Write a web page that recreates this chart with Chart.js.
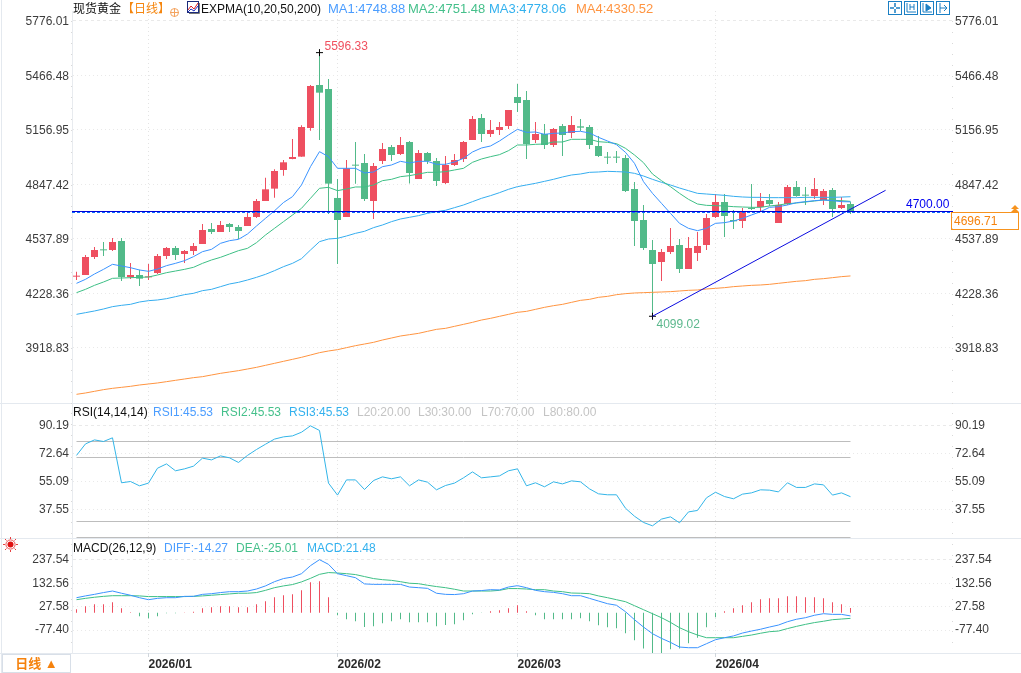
<!DOCTYPE html>
<html lang="zh-CN">
<head>
<meta charset="UTF-8">
<title>现货黄金 日线</title>
<script src="https://cdn.jsdelivr.net/npm/chart.js"></script>
<style>
  html, body { margin: 0; padding: 0; background: #fff; overflow: hidden; }
  body { width: 1021px; height: 673px; position: relative; font: 12px "Liberation Sans", "Noto Sans CJK SC", sans-serif; }
  canvas { position: absolute; left: 0; }
  .t { position: absolute; line-height: 14px; white-space: nowrap; }
  .ma { font-size: 13px; }
  .rule { position: absolute; background: #e4e9ef; }
  .minor { position: absolute; top: 21px; width: 1px; height: 632px;
           background: repeating-linear-gradient(to bottom, #d9d9d9 0 1px, transparent 1px 10.9px); }
  svg { position: absolute; }
  #box { position: absolute; left: 951px; top: 212px; width: 66px; height: 16px; border: 1px solid #f7931e; }
  .tri { position: absolute; width: 0; height: 0; border-left: 4px solid transparent; border-right: 4px solid transparent; border-bottom: 4px solid #f7931e; }
  #btn { position: absolute; left: 2px; top: 654px; width: 67px; height: 17px; border: 1px solid #d8dfe8; color: #f5820d;
         font-weight: bold; font-size: 13px; line-height: 17px; text-align: center; }
</style>
</head>
<body>

<div class="rule" style="left:1px;top:0;width:1px;height:673px"></div>
<div class="rule" style="left:0;top:403px;width:1021px;height:1px"></div>
<div class="rule" style="left:0;top:538px;width:1021px;height:1px"></div>
<div class="rule" style="left:0;top:653px;width:1021px;height:1px"></div>
<div class="minor" style="left:71px"></div>
<div class="minor" style="left:952px"></div>

<canvas id="priceChart" width="1021" height="403" style="top:0"></canvas>
<canvas id="rsiChart" width="1021" height="135" style="top:403px"></canvas>
<canvas id="macdChart" width="1021" height="135" style="top:538px"></canvas>

<!-- legends -->
<span class="t" style="left:73px;top:2px;color:#111">现货黄金</span>
<span class="t" style="left:122px;top:2px;color:#f5860f">【日线】</span>
<svg style="left:170px;top:8px" width="9" height="9" viewBox="0 0 9 9"><circle cx="4.5" cy="4.5" r="4" fill="none" stroke="#f4a460"/><path d="M0 4.5H9M4.5 0V9" stroke="#f4a460"/></svg>
<svg style="left:187px;top:1px" width="13" height="13" viewBox="0 0 13 13"><rect x=".5" y=".5" width="11" height="11" fill="#fff" stroke="#1a2a7a"/><path d="M1 9L4 5L7 8L11 2" fill="none" stroke="#e02020"/><path d="M1 11L4 8L7 10L11 5" fill="none" stroke="#2030c0"/><path d="M12.5 2V12.5H2" fill="none" stroke="#777"/></svg>
<span class="t" style="left:201px;top:2px;color:#111">EXPMA(10,20,50,200)</span>
<span class="t ma" style="left:328px;top:2px;color:#4b9dff">MA1:4748.88</span>
<span class="t ma" style="left:408px;top:2px;color:#45c08b">MA2:4751.48</span>
<span class="t ma" style="left:489px;top:2px;color:#33b1ee">MA3:4778.06</span>
<span class="t ma" style="left:576px;top:2px;color:#ff9440">MA4:4330.52</span>

<span class="t" style="left:73px;top:405px;color:#111">RSI(14,14,14)</span>
<span class="t" style="left:153px;top:405px;color:#4b9dff">RSI1:45.53</span>
<span class="t" style="left:221px;top:405px;color:#45c08b">RSI2:45.53</span>
<span class="t" style="left:289px;top:405px;color:#33b1ee">RSI3:45.53</span>
<span class="t" style="left:357px;top:405px;color:#c4c4c4">L20:20.00</span>
<span class="t" style="left:418px;top:405px;color:#c4c4c4">L30:30.00</span>
<span class="t" style="left:481px;top:405px;color:#c4c4c4">L70:70.00</span>
<span class="t" style="left:543px;top:405px;color:#c4c4c4">L80:80.00</span>

<span class="t" style="left:73px;top:541px;color:#111">MACD(26,12,9)</span>
<span class="t" style="left:164px;top:541px;color:#4b9dff">DIFF:-14.27</span>
<span class="t" style="left:236px;top:541px;color:#45c08b">DEA:-25.01</span>
<span class="t" style="left:307px;top:541px;color:#33b1ee">MACD:21.48</span>

<!-- price tags -->
<span class="t" style="left:906px;top:197px;color:#0000f0">4700.00</span>
<div id="box"></div>
<span class="t" style="left:954px;top:214px;color:#f5820d">4696.71</span>
<div class="tri" style="left:1011px;top:205px"></div>
<div class="tri" style="left:1011px;top:208px"></div>

<!-- toolbar -->
<svg style="left:888px;top:1px" width="63" height="14" viewBox="0 0 63 14" fill="none" stroke="#1a7fc4">
  <rect x=".5" y=".5" width="13" height="13"/><path d="M7 2V6M7 8V12M2 7H6M8 7H12" stroke-width="1.5"/>
  <rect x="16.5" y=".5" width="13" height="13"/><path d="M19 2V11H28M22 3V9M26 3V9M22 6H26"/>
  <rect x="32.5" y=".5" width="13" height="13"/><path d="M35 2V11H44"/><path d="M38 3L43 7L38 10Z" fill="#1a7fc4"/>
  <rect x="48.5" y=".5" width="13" height="13"/><path d="M52 2V12M52 7H59M56 4L59 7L56 10"/>
</svg>
<svg style="left:3px;top:537px" width="15" height="15" viewBox="0 0 15 15"><circle cx="7.5" cy="7.5" r="3" fill="#e01010"/><circle cx="7.5" cy="7.5" r="4.6" fill="none" stroke="#e01010" stroke-width=".7"/><path d="M7.5 0V2M7.5 13V15M0 7.5H2M13 7.5H15M2 2L3.5 3.5M13 2L11.5 3.5M2 13L3.5 11.5M13 13L11.5 11.5" stroke="#e01010" stroke-width=".8"/></svg>
<div id="btn">日线 ▲</div>

<script>
// candles
const opens = [4323.9,4333.4,4435.6,4477.2,4475.3,4526.5,4322.0,4333.4,4320.1,4344.7,4441.3,4486.7,4452.6,4469.7,4509.4,4594.6,4577.6,4623.0,4606.0,4611.6,4662.8,
  4753.8,4823.9,4929.9,4992.3,5005.6,5168.4,5412.6,5389.9,4770.9,4662.8,4958.2,4969.6,4753.8,4980.9,5060.4,5020.7,5088.8,4878.7,5026.3,4980.9,4856.0,4958.2,4992.3,5100.2,5225.1,5134.3,5157.0,5179.7,5344.4,5327.3,
  5100.2,5134.3,5071.8,5179.7,5139.9,5177.8,5174.0,5066.1,5003.6,5003.6,4998.0,4821.9,4645.9,4475.4,4407.2,4464.0,4503.8,4367.5,4458.4,4503.8,4662.8,4748.0,4645.8,4640.1,4713.9,4719.6,4759.4,4628.7,4736.6,4833.2,4787.8,4782.0,4759.4,4816.1,4713.9,4736.6];
const closes = [4327.7,4435.6,4475.3,4473.4,4520.8,4322.0,4333.4,4312.6,4325.8,4441.3,4486.7,4447.0,4469.7,4498.0,4589.0,4577.6,4617.3,4606.0,4583.2,4662.8,4753.6,
  4820.0,4924.2,4973.4,5003.7,5174.0,5406.9,5369.0,4852.3,4645.7,4939.3,4954.4,4765.1,4952.5,5049.1,5015.0,5071.8,4912.8,5026.3,4980.9,4867.3,4958.2,4986.6,5088.8,5219.4,5134.3,5157.0,5174.0,5270.6,5310.3,5077.5,
  5134.3,5071.8,5162.6,5128.6,5185.4,5170.2,5071.8,5009.3,4999.8,4999.8,4810.6,4640.2,4486.8,4395.9,4464.0,4498.1,4367.5,4486.8,4498.1,4657.1,4748.0,4668.5,4638.2,4691.2,4708.2,4753.7,4736.6,4731.0,4833.2,4782.0,4784.0,4821.8,4810.5,4708.2,4731.0,4691.2];
const highs = [4352.3,4446.9,4492.4,4520.8,4543.5,4543.5,4401.5,4363.7,4395.8,4452.6,4492.4,4498.0,4475.3,4515.1,4623.0,4628.7,4640.0,4628.7,4617.3,4691.2,4765.0,
  4886.3,4933.7,4986.7,5105.9,5183.5,5412.6,5596.33,5446.6,4878.7,4986.7,5088.8,5020.7,4969.6,5083.1,5071.8,5117.2,5094.5,5043.4,5032.0,4998.0,5009.3,5020.7,5094.5,5236.5,5247.8,5213.8,5202.4,5270.6,5418.2,5378.5,
  5202.4,5191.0,5168.3,5191.0,5236.5,5219.4,5185.4,5122.9,5032.0,5037.7,5015.0,4861.7,4731.0,4532.2,4481.0,4600.3,4537.9,4549.2,4577.6,4679.8,4793.4,4793.4,4702.6,4713.9,4850.2,4799.1,4793.4,4748.0,4844.5,4867.3,4833.2,4884.3,4821.8,4827.5,4776.4,4748.0];
const lows = [4305.0,4333.4,4424.2,4441.3,4469.7,4299.3,4310.7,4270.9,4305.0,4339.0,4424.2,4418.6,4401.5,4447.0,4509.4,4566.2,4577.6,4577.6,4537.8,4611.6,4657.1,
  4753.8,4772.7,4897.7,4990.4,5005.6,5153.2,5100.2,4679.8,4395.8,4662.8,4852.2,4753.8,4651.5,4963.9,4980.9,5015.0,4853.0,4878.7,4963.9,4839.0,4850.3,4952.5,4975.2,5100.2,5088.8,5117.2,5128.6,5162.6,5259.2,4992.3,
  5083.1,5049.1,5060.4,5009.3,5111.5,5151.3,5049.1,5003.6,4963.9,4969.6,4804.9,4498.2,4475.5,4099.02,4299.3,4452.7,4344.8,4367.5,4412.9,4475.4,4657.1,4549.2,4594.6,4600.3,4702.6,4691.2,4725.3,4628.7,4731.0,4778.0,4731.0,4765.0,4731.0,4662.8,4708.2,4679.8];

// EXPMA(10,20,50,200)
const ma1 = [4286,4308.8,4339,4365.5,4394,4384.5,4375,4361.8,4354.2,4367.4,4386.4,4399.6,4414.8,4437.5,4465.9,4479.1,4513.2,4528.3,4535.9,4566.2,4611.6,4655.2,
  4698,4745,4778.4,4844.7,4948.8,5034,5005.6,4939.3,4939.3,4939.3,4912.8,4918.4,4948.7,4958.2,4979,4969.6,4979,4979,4962,4962,4975.2,4996,5032,5054.7,5066.1,5094.5,5128.6,5160.8,5143.7,5145.6,5132.4,5138,5139.9,5147.5,5149.4,5139.9,5115.3,5094.5,5073.7,
  5030,4967.7,4863.5,4797.2,4740.4,4683.6,4626.8,4598.4,4585.2,4598.4,4626.8,4630.6,4640.1,4655.2,4674.2,4693.1,4717.7,4721.5,4731,4744.2,4749.9,4755.6,4759.4,4755.6,4749.9,4748.9];
const ma2 = [4233,4252,4274.7,4293.6,4314.4,4316.3,4318.2,4320,4322,4333.4,4346.6,4356,4365.5,4377,4399.6,4418.6,4433.7,4452.6,4471.6,4484.8,4517,4560.5,4598.4,4636.3,4674,4712,4769,4825.8,4831.4,4812.5,4822,4833.3,
  4833.2,4844.6,4869.2,4876.8,4891.9,4897.6,4907,4916.5,4916.5,4920.4,4929.8,4939.3,4973.4,4992.3,5005.5,5016.9,5039.6,5071.8,5071.8,5075.6,5077.5,5088.8,5088.8,5104,5104,5104,5090.7,5086.9,5079.4,5052.9,5015,
  4971.4,4907,4869.1,4835,4797.2,4763.1,4736.6,4729,4727.2,4725.3,4721.5,4719.6,4717.7,4717.7,4725.3,4731,4738.5,4742.3,4748,4753.7,4759.4,4757.5,4755.6,4751.5];
const ma3 = [4110,4119.5,4129,4140.3,4153.6,4161.1,4166.8,4180,4187.6,4191.4,4199,4210.3,4221.7,4229.3,4244.4,4252,4267.1,4282.3,4291.7,4305,4320.1,4337.2,4358,4380.7,4399.6,4426.1,4475.3,4522.7,4537.8,4541.6,4554.9,4570,
  4581.5,4602.3,4617.4,4636.4,4651.5,4661,4670.5,4683.7,4693.2,4700.8,4715.9,4731,4750,4768.9,4784,4801,4820,4835.2,4844.6,4854.1,4865.4,4876.8,4890.1,4901.4,4907.1,4916.5,4918.4,4922.2,4920.4,4918.4,
  4910.8,4895.6,4876.7,4859.7,4844.5,4827.5,4812.4,4797.2,4793.4,4789.6,4785.8,4780.2,4776.4,4774.5,4774.5,4772.6,4772.6,4772.6,4772.6,4774.5,4774.5,4774.5,4774.5,4776,4778];
const ma4 = [3655.7,3663.2,3672.7,3682.2,3689.7,3695.4,3701.1,3708.7,3714.4,3720.1,3727.6,3735.2,3742.7,3750.3,3756,3765.5,3774.9,3782.5,3790.1,3799.5,3809,3820.4,3831.7,3843.1,3854.4,3865.8,3879,3892.3,3901.8,3909.3,3920.7,3932,
  3941.4,3950.9,3964.2,3975.5,3986.9,3994.4,4002,4013.4,4024.7,4030.4,4041.8,4053.1,4064.5,4077.7,4087.2,4098.6,4109.9,4121.3,4126.9,4138.3,4149.7,4159.1,4166.7,4178,4189.4,4195.1,4206.5,4212.1,4221.6,
  4227.4,4231.2,4233.1,4235,4236.9,4238.8,4242.6,4246.3,4248.2,4253.9,4257.7,4261.5,4267.2,4271,4274.7,4276.6,4280.4,4286.1,4291.8,4297.5,4301.2,4308.8,4312.6,4318.3,4324,4328];

const rsi = [71.3,78.5,81.0,80.0,82.3,54.2,55.0,52.3,54.0,63.3,66.0,61.7,62.9,64.6,69.6,68.5,71.0,69.8,66.9,71.3,75.0,78.3,81.5,82.9,83.5,85.8,89.8,86.9,54.0,46.5,56.0,56.0,50.0,55.6,57.9,56.7,57.9,52.3,56.0,54.6,49.8,
  52.5,54.0,57.3,61.0,57.3,57.9,58.5,61.7,62.9,52.3,54.2,51.7,54.8,53.5,55.4,54.8,50.4,47.3,46.7,46.7,38.3,33.3,29.4,27.3,31.5,32.9,29.2,36.0,36.9,44.8,48.3,45.6,44.2,47.1,47.9,49.8,49.6,48.5,54.2,51.3,51.3,53.5,52.9,46.5,47.9,45.5];
const rsiLevels = [20, 30, 70, 80];

const diff = [68,76,83,91,98,88,79,68,59,65,68,68,74,74,83,86,91,95,95,98,107,121,140,154,161,176,212,239,218,176,167,158,130,128,128,128,128,116,113,110,88,
  83,82,86,98,100,104,103,116,122,113,101,95,92,86,77,77,65,53,41,34,5,-31,-64,-94,-115,-133,-154,-157,-157,-139,-121,-112,-104,-91,-82,-74,-64,-55,-40,-29,-22,-11,-4,-7,-7,-14];
const dea = [59,65,70,74,77,77,77,76,73,73,73,73,73,74,76,79,82,85,88,88,91,101,113,121,127,139,155,173,181,179,176,172,163,154,149,146,140,133,131,124,118,
  113,106,98,98,98,98,101,109,109,107,104,104,98,95,89,88,86,76,68,59,50,32,14,-4,-22,-43,-67,-85,-100,-112,-112,-112,-112,-106,-100,-92,-85,-82,-71,-61,-52,-44,-38,-31,-28,-25];
const macd = [16,29,38,38,47,20,2,-16,-25,-16,-2,-2,1,5,20,25,29,29,25,25,38,52,70,79,83,101,137,142,70,-11,-29,-38,-64,-61,-47,-38,-29,-43,-43,-43,-61,
  -55,-52,-34,-7,-1,7,11,20,34,7,-11,-29,-29,-29,-29,-25,-38,-56,-65,-70,-92,-124,-160,-185,-185,-164,-161,-137,-112,-65,-20,7,20,34,47,61,65,65,74,74,70,70,65,47,38,22];

const priceTicks = [3918.83, 4228.36, 4537.89, 4847.42, 5156.95, 5466.48, 5776.01];
const rsiTicks = [37.55, 55.09, 72.64, 90.19];
const macdTicks = [-77.40, 27.58, 132.56, 237.54];
const monthIndex = [8, 29, 49, 71];
const monthLabels = ['2026/01', '2026/02', '2026/03', '2026/04'];

const targetLevel = 4694;   // blue horizontal drawing, tagged 4700.00
const lastLevel = 4688.3;   // dashed last-price line, tagged 4696.71
const trendFrom = [64, 4099.02];
const trendTo = [89.9, 4814.4];
const peak = [27, 5596.33];
const trough = [64, 4099.02];

const RED = '#ee4f60', GREEN = '#52ba89';
const FONT = '"Liberation Sans", "Noto Sans CJK SC", sans-serif';
const lastIdx = opens.length - 1;
const xMin = -0.5, xMax = 97.39;

const pts = s => s.map((y, i) => ({ x: i, y }));
const flat = (y, a, b) => [{ x: a, y }, { x: b, y }];
const line = (data, color, extra) => Object.assign({
  type: 'line', data, borderColor: color, borderWidth: 1, pointRadius: 0, tension: 0,
  xAxisID: 'x', yAxisID: 'yl', order: 1
}, extra);

// fixed box so every panel lines up to the pixel
const fixBox = (w, h) => s => {
  if (w !== null) s.width = w;
  if (h !== null) s.height = h;
  s.paddingTop = s.paddingBottom = s.paddingLeft = s.paddingRight = 0;
};

function yAxis(position, min, max, ticks, width, grid, labelOffset) {
  const top = ticks[ticks.length - 1];
  return {
    position, min, max,
    afterBuildTicks: s => { s.ticks = ticks.map(value => ({ value })); },
    afterFit: fixBox(width, null),
    grid: { display: grid, drawTicks: false, color: '#e9e9e9' },
    border: { display: grid, color: '#e8ebef', dash: c => (c.tick && c.tick.value === top ? [3, 3] : [1, 3]) },
    ticks: {
      autoSkip: false, padding: position === 'left' ? 3 : 2, color: '#3c3c3c', labelOffset,
      font: { family: FONT, size: 12 }, callback: v => v.toFixed(2)
    }
  };
}

function xAxis(height, labels) {
  return {
    type: 'linear', min: xMin, max: xMax, offset: false,
    afterBuildTicks: s => { s.ticks = monthIndex.map(value => ({ value })); },
    afterFit: fixBox(null, height),
    grid: { offset: false, drawTicks: labels, tickLength: 4, color: '#e4e4e4', tickColor: '#d0d6dc' },
    border: { display: false, dash: [1, 3] },
    ticks: {
      display: labels, autoSkip: false, maxRotation: 0, align: 'start', padding: 0, color: '#2b2b2b',
      font: { family: FONT, size: 12, weight: 'bold' },
      callback: v => monthLabels[monthIndex.indexOf(v)]
    }
  };
}

function options(padTop, xHeight, xLabels, min, max, ticks, labelOffset) {
  return {
    responsive: false, animation: false, events: [],
    layout: { autoPadding: false, padding: { top: padTop } },
    plugins: { legend: { display: false }, tooltip: { enabled: false } },
    scales: {
      x: xAxis(xHeight, xLabels),
      yl: yAxis('left', min, max, ticks, 72, true, labelOffset),
      yr: yAxis('right', min, max, ticks, 68, false, labelOffset)
    }
  };
}

// labels next to the extreme candles
const extremeLabels = {
  id: 'extremeLabels',
  afterDatasetsDraw(chart) {
    const { ctx, scales } = chart;
    ctx.save();
    ctx.font = '12px ' + FONT;
    ctx.textBaseline = 'middle';
    ctx.fillStyle = '#f0505f';
    ctx.fillText(peak[1].toFixed(2), scales.x.getPixelForValue(peak[0]) + 5, scales.yl.getPixelForValue(peak[1]) - 6);
    ctx.fillStyle = '#5cb88d';
    ctx.fillText(trough[1].toFixed(2), scales.x.getPixelForValue(trough[0]) + 4, scales.yl.getPixelForValue(trough[1]) + 8);
    ctx.restore();
  }
};

const candleColors = opens.map((o, i) => (closes[i] >= o ? RED : GREEN));

new Chart(document.getElementById('priceChart'), {
  type: 'bar',
  data: {
    datasets: [
      line(flat(targetLevel, xMin, xMax), '#0000d8', { order: 0 }),
      line(flat(lastLevel, xMin, xMax), '#0a6cff', { order: 0, borderDash: [3, 2] }),
      line([{ x: trendFrom[0], y: trendFrom[1] }, { x: trendTo[0], y: trendTo[1] }], '#0b0be0', { order: 0 }),
      line([{ x: peak[0], y: peak[1] }, { x: trough[0], y: trough[1] }], '#000', {
        order: 0, showLine: false, pointStyle: 'cross', pointRadius: 3.5, pointBorderColor: '#000', pointBorderWidth: 1
      }),
      line(pts(ma1), '#3a93ff'),
      line(pts(ma2), '#3dbf85'),
      line(pts(ma3), '#35adef'),
      line(pts(ma4), '#ff9440'),
      {
        data: opens.map((o, i) => ({ x: i, y: [o, closes[i]] })), backgroundColor: candleColors, order: 3,
        barThickness: 7, grouped: false, minBarLength: 1, inflateAmount: 0, borderSkipped: false, xAxisID: 'x', yAxisID: 'yl'
      },
      {
        data: lows.map((l, i) => ({ x: i, y: [l, highs[i]] })), backgroundColor: candleColors, order: 4,
        barThickness: 1, grouped: false, inflateAmount: 0, borderSkipped: false, xAxisID: 'x', yAxisID: 'yl'
      }
    ]
  },
  options: options(11, 0, false, 3606.4, 5832.8, priceTicks, 1),
  plugins: [extremeLabels]
});

new Chart(document.getElementById('rsiChart'), {
  type: 'line',
  data: {
    datasets: rsiLevels.map(l => line(flat(l, 0, lastIdx), '#bdbdbd', { order: 2 }))
      .concat([line(pts(rsi), '#33b5e8')])
  },
  options: options(1, 0, false, 19.69, 103.4375, rsiTicks, 0)
});

new Chart(document.getElementById('macdChart'), {
  type: 'bar',
  data: {
    datasets: [
      line(pts(diff), '#3a93ff'),
      line(pts(dea), '#3dbf85'),
      {
        data: pts(macd), backgroundColor: macd.map(v => (v >= 0 ? RED : GREEN)), order: 3,
        barThickness: 1, grouped: false, inflateAmount: 0, borderSkipped: false, xAxisID: 'x', yAxisID: 'yl'
      }
    ]
  },
  options: options(0, 20, true, -180.8, 336.5, macdTicks, 0)
});
</script>
</body>
</html>
